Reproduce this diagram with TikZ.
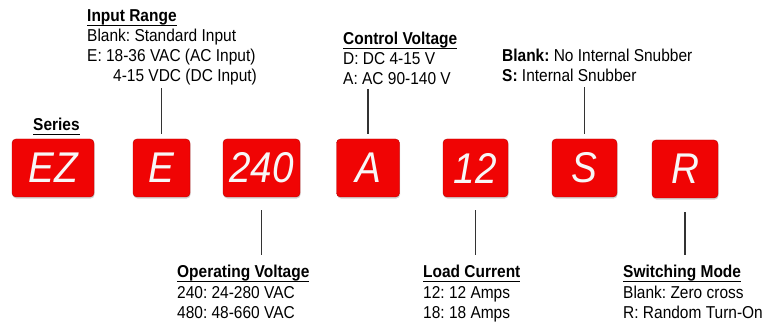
\documentclass[tikz,border=0pt]{standalone}
\usepackage{fontspec}
\setmainfont{Liberation Sans}[FakeStretch=0.9]
\usetikzlibrary{shadows}
\definecolor{codered}{RGB}{240,4,4}
\frenchspacing
\tikzset{
  codebox/.style = {
    rounded corners=4pt, fill=codered, draw=codered!75!black,
    minimum height=58pt, inner sep=0pt,
    text=white!94!gray, font=\fontsize{43}{43}\selectfont\itshape,
    drop shadow={opacity=0.35, shadow xshift=0.6pt, shadow yshift=-1.6pt}
  },
  legend/.style = {
    align=left, inner sep=0pt, anchor=base west,
    font=\fontsize{17.2}{20}\selectfont
  },
  lead/.style = {draw=black!80, line width=1.3pt}
}
\newsavebox{\headbox}
\newcommand{\headtxt}[1]{\sbox{\headbox}{\textbf{#1}}\usebox{\headbox}\llap{\rule[-4.1pt]{\wd\headbox}{1.2pt}}}

\begin{document}
\begin{tikzpicture}[x=1pt,y=-1pt]
  \useasboundingbox (0,0) rectangle (766,323);
  % code boxes
  \node[codebox,minimum width=82pt] (ez)   at (53,168)    {EZ};
  \node[codebox,minimum width=57pt] (e)    at (161.5,168) {E};
  \node[codebox,minimum width=77pt] (volt) at (261.5,168) {240};
  \node[codebox,minimum width=63pt] (ctrl) at (368,168)   {A};
  \node[codebox,minimum width=65pt] (amp)  at (475.5,168) {12};
  \node[codebox,minimum width=65pt] (snub) at (584.5,168) {S};
  \node[codebox,minimum width=66pt] (mode) at (685,169)   {R};
  % labels above (anchored at the last baseline)
  \node[legend] (series) at (33,131) {\headtxt{Series}};
  \node[legend] (range) at (87,82)
    {\headtxt{Input Range}\\Blank: Standard Input\\E: 18-36 VAC (AC Input)\\\hspace*{26pt}4-15 VDC (DC Input)};
  \node[legend] (ctrltxt) at (343,85)
    {\headtxt{Control Voltage}\\D: DC 4-15 V\\A: AC 90-140 V};
  \node[legend] (snubtxt) at (502,82)
    {\textbf{Blank:} No Internal Snubber\\\textbf{S:} Internal Snubber};
  % labels below
  \node[legend] (volttxt) at (177,318)
    {\headtxt{Operating Voltage}\\240: 24-280 VAC\\480: 48-660 VAC};
  \node[legend] (amptxt) at (423,318)
    {\headtxt{Load Current}\\12: 12 Amps\\18: 18 Amps};
  \node[legend] (modetxt) at (623,318)
    {\headtxt{Switching Mode}\\Blank: Zero cross\\R: Random Turn-On};
  % leaders
  \draw[lead,shorten <=5pt,shorten >=2.5pt] (e.north) -- (e.north |- range.south);
  \draw[lead,shorten <=5pt,shorten >=4pt] (ctrl.north) -- (ctrl.north |- ctrltxt.south);
  \draw[lead,shorten <=5pt,shorten >=5pt] (snub.north) -- (snub.north |- snubtxt.south);
  \draw[lead,shorten <=13pt,shorten >=10.5pt] (volt.south) -- (volt.south |- volttxt.north);
  \draw[lead,shorten <=13pt,shorten >=10.5pt] (amp.south) -- (amp.south |- amptxt.north);
  \draw[lead,shorten <=14pt,shorten >=10.5pt] (mode.south) -- (mode.south |- modetxt.north);
\end{tikzpicture}
\end{document}
